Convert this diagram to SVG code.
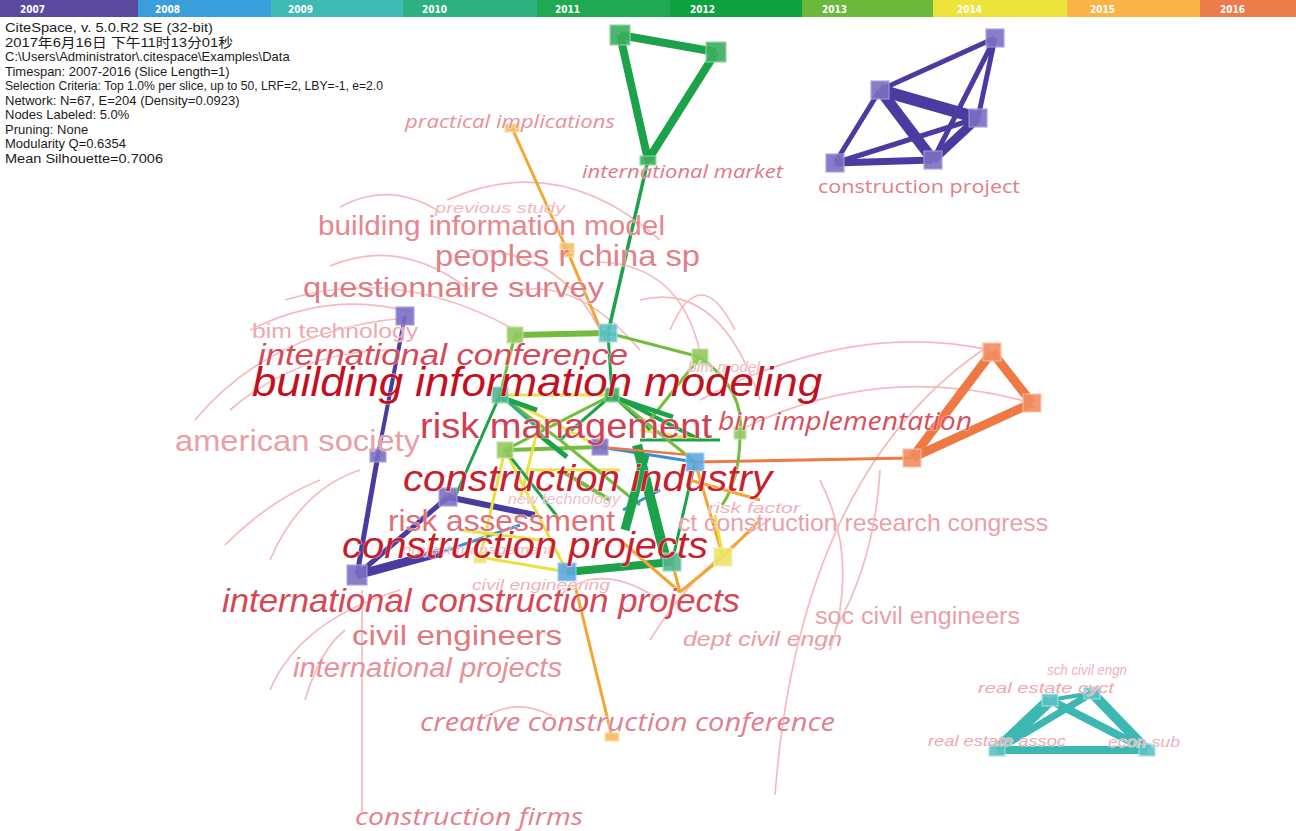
<svg xmlns="http://www.w3.org/2000/svg" width="1296" height="831" viewBox="0 0 1296 831">
<defs>
<style>
text{font-family:"Liberation Sans",Arial,sans-serif}
.info{font-size:13px;fill:#1c1c1c}
.yr{font-family:"Liberation Sans Narrow","DejaVu Sans Condensed",sans-serif;font-size:10px;font-weight:bold;fill:#fff}
.arc{fill:none;stroke:#f6b9bd;stroke-width:1.7}
.e{fill:none;stroke-linecap:butt}
.c07{stroke:#4a3ba0}.c08{stroke:#3b8fd8}.c09{stroke:#3cb7b2}.c10{stroke:#2fae86}
.c12{stroke:#1ba24a}.c13{stroke:#74bc3e}.c14{stroke:#e9e23c}.c15{stroke:#f2a532}.c16{stroke:#f07843}
.n07{fill:#7b70c4;stroke:#a59dde}.n08{fill:#5fa8e2;stroke:#9ccbf0}.n09{fill:#5cc2c4;stroke:#a6e0e0}
.n10{fill:#4fb88e;stroke:#9ad8bd}.n12{fill:#3bb05e;stroke:#8fd4a2}.n13{fill:#93c95f;stroke:#c2e2a4}
.n14{fill:#eee46a;stroke:#f6f0b0}.n15{fill:#f6bd62;stroke:#fadca8}.n16{fill:#f28e62;stroke:#f8c0a6}
.nd rect{stroke-width:1.2;opacity:.9}
.lbl{paint-order:stroke;stroke:#fff;stroke-width:1.3;stroke-opacity:.55}
.hum{font-family:"Open Sans","Noto Sans",sans-serif}
.it{font-style:italic}
</style>
</defs>
<rect width="1296" height="831" fill="#fff"/>

<!-- year colour bar -->
<g id="timebar">
<rect x="0" y="0" width="138" height="17" fill="#5a4a9d"/>
<rect x="138" y="0" width="133" height="17" fill="#3a9edb"/>
<rect x="271" y="0" width="132" height="17" fill="#3fbab4"/>
<rect x="403" y="0" width="134" height="17" fill="#2fb083"/>
<rect x="537" y="0" width="133" height="17" fill="#20a852"/>
<rect x="670" y="0" width="132" height="17" fill="#0fa042"/>
<rect x="802" y="0" width="131" height="17" fill="#6cb83c"/>
<rect x="933" y="0" width="134" height="17" fill="#ece43a"/>
<rect x="1067" y="0" width="133" height="17" fill="#f8b446"/>
<rect x="1200" y="0" width="96" height="17" fill="#ec7c4c"/>
<text class="yr" x="20" y="13">2007</text>
<text class="yr" x="155" y="13">2008</text>
<text class="yr" x="288" y="13">2009</text>
<text class="yr" x="422" y="13">2010</text>
<text class="yr" x="555" y="13">2011</text>
<text class="yr" x="690" y="13">2012</text>
<text class="yr" x="822" y="13">2013</text>
<text class="yr" x="957" y="13">2014</text>
<text class="yr" x="1090" y="13">2015</text>
<text class="yr" x="1220" y="13">2016</text>
</g>

<!-- run summary -->
<g id="summary" class="info">
<text x="5" y="32" textLength="208" lengthAdjust="spacingAndGlyphs">CiteSpace, v. 5.0.R2 SE (32-bit)</text>
<text x="5" y="46.5" textLength="228" lengthAdjust="spacingAndGlyphs" style="font-family:'Liberation Sans','Noto Sans CJK SC',sans-serif">2017年6月16日 下午11时13分01秒</text>
<text x="5" y="61">C:\Users\Administrator\.citespace\Examples\Data</text>
<text x="5" y="75.5">Timespan: 2007-2016 (Slice Length=1)</text>
<text x="5" y="90" textLength="378" lengthAdjust="spacingAndGlyphs">Selection Criteria: Top 1.0% per slice, up to 50, LRF=2, LBY=-1, e=2.0</text>
<text x="5" y="104.5">Network: N=67, E=204 (Density=0.0923)</text>
<text x="5" y="119">Nodes Labeled: 5.0%</text>
<text x="5" y="133.5">Pruning: None</text>
<text x="5" y="148">Modularity Q=0.6354</text>
<text x="5" y="162.5" textLength="158" lengthAdjust="spacingAndGlyphs">Mean Silhouette=0.7006</text>
</g>

<!-- citation burst arcs -->
<g id="arcs" class="arc">
<path d="M340 207 Q390 180 440 212"/>
<path d="M447 200 Q560 150 660 240"/>
<path d="M330 266 Q400 236 470 290"/>
<path d="M250 330 Q330 290 410 312"/>
<path d="M285 300 Q400 265 515 330"/>
<path d="M195 420 Q270 330 405 318"/>
<path d="M230 410 Q300 350 395 350"/>
<path d="M470 250 Q560 250 600 330"/>
<path d="M520 290 Q580 280 640 350"/>
<path d="M600 262 Q680 265 700 352"/>
<path d="M640 300 Q720 280 760 400"/>
<path d="M670 330 Q700 260 735 330"/>
<path d="M700 400 Q850 320 990 350"/>
<path d="M740 430 Q880 360 1032 403"/>
<path d="M775 795 Q800 470 990 345"/>
<path d="M820 480 Q860 560 830 650"/>
<path d="M880 470 Q875 560 835 630"/>
<path d="M650 640 Q700 560 770 520"/>
<path d="M270 560 Q300 490 360 470"/>
<path d="M225 545 Q270 500 320 480"/>
<path d="M305 700 Q320 650 345 630"/>
<path d="M270 690 Q300 620 400 590"/>
<path d="M362 590 L362 812"/>
<path d="M480 720 Q515 696 552 716"/>
<path d="M560 595 Q600 560 660 600"/>
</g>

<!-- connectors -->
<g id="edges" class="e">
<!-- top green cluster -->
<path class="c12" stroke-width="8" d="M620 35 L716 52"/>
<path class="c12" stroke-width="8" d="M620 35 L648 160"/>
<path class="c12" stroke-width="8" d="M716 52 L648 160"/>
<path class="c12" stroke-width="3.5" d="M648 160 L608 333"/>
<!-- top right purple cluster -->
<path class="c07" stroke-width="5" d="M995 38 L880 90"/>
<path class="c07" stroke-width="5" d="M995 38 L978 118"/>
<path class="c07" stroke-width="5" d="M995 38 L933 160"/>
<path class="c07" stroke-width="12" d="M880 90 L978 118"/>
<path class="c07" stroke-width="11" d="M880 90 L933 160"/>
<path class="c07" stroke-width="5" d="M880 90 L835 163"/>
<path class="c07" stroke-width="7" d="M835 163 L933 160"/>
<path class="c07" stroke-width="5" d="M835 163 L978 118"/>
<path class="c07" stroke-width="9" d="M933 160 L978 118"/>
<!-- orange cluster -->
<path class="c16" stroke-width="9" d="M992 352 L1032 403"/>
<path class="c16" stroke-width="9" d="M992 352 L912 458"/>
<path class="c16" stroke-width="9" d="M1032 403 L912 458"/>
<path class="c16" stroke-width="3" d="M912 458 L695 462"/>
<!-- teal cluster -->
<path class="c09" stroke-width="12" d="M1050 700 L997 750"/>
<path class="c09" stroke-width="10" d="M1092 693 L1147 750"/>
<path class="c09" stroke-width="8" d="M997 750 L1147 750"/>
<path class="c09" stroke-width="8" d="M1050 700 L1147 750"/>
<path class="c09" stroke-width="7" d="M1092 693 L997 750"/>
<path class="c09" stroke-width="4" d="M1050 700 L1092 693"/>
<!-- left purple chain -->
<path class="c07" stroke-width="4" d="M405 316 L378 455"/>
<path class="c07" stroke-width="5" d="M378 455 L357 575"/>
<path class="c07" stroke-width="5" d="M357 575 L448 497"/>
<path class="c07" stroke-width="9" d="M357 575 L442 552"/>
<path class="c07" stroke-width="6" d="M448 497 L535 515"/>
<path class="c08" stroke-width="3" d="M442 552 L520 525"/>
<!-- orange spine -->
<path class="c15" stroke-width="3" d="M512 128 L567 250"/>
<path class="c15" stroke-width="3" d="M567 250 L605 340"/>
<path class="c15" stroke-width="3" d="M575 585 L612 737"/>
<!-- central mesh -->
<path class="c13" stroke-width="6" d="M515 335 L608 333"/>
<path class="c13" stroke-width="3" d="M608 333 L700 357"/>
<path class="c13" stroke-width="3" d="M515 335 L500 395"/>
<path class="c12" stroke-width="3" d="M608 333 L612 395"/>
<path class="c13" stroke-width="3" d="M700 357 Q745 390 740 433"/>
<path class="c13" stroke-width="3" d="M740 433 Q740 480 722 505"/>
<path class="c14" stroke-width="3" d="M500 395 L612 395"/>
<path class="c12" stroke-width="3" d="M500 395 L455 497"/>
<path class="c13" stroke-width="3" d="M500 395 L560 440"/>
<path class="c12" stroke-width="3" d="M612 395 L560 440"/>
<path class="c12" stroke-width="4" d="M612 395 L700 440"/>
<path class="c14" stroke-width="3" d="M500 395 L600 447"/>
<path class="c13" stroke-width="4" d="M505 450 L600 447"/>
<path class="c13" stroke-width="3" d="M505 450 L612 395"/>
<path class="c14" stroke-width="3" d="M505 450 L567 572"/>
<path class="c14" stroke-width="3" d="M505 450 L480 557"/>
<path class="c14" stroke-width="3" d="M540 420 L520 500"/>
<path class="c14" stroke-width="3" d="M530 470 L620 470"/>
<path class="c14" stroke-width="3" d="M640 430 L700 440"/>
<path class="c13" stroke-width="3" d="M560 440 L640 505"/>
<path class="c12" stroke-width="3" d="M640 440 L720 440"/>
<path class="c12" stroke-width="3" d="M612 395 L650 430"/>
<path class="c13" stroke-width="3" d="M612 395 L695 462"/>
<path class="c13" stroke-width="3" d="M700 357 L650 420"/>
<path class="c12" stroke-width="5" d="M500 397 L537 410"/>
<path class="c12" stroke-width="5" d="M613 397 L673 417"/>
<path class="c12" stroke-width="5" d="M537 433 L567 457"/>
<path class="c13" stroke-width="4" d="M560 470 L610 500"/>
<path class="c08" stroke-width="3" d="M600 447 L695 462"/>
<path class="c08" stroke-width="3" d="M623 510 L660 490"/>
<path class="c12" stroke-width="10" d="M637 445 L666 560"/>
<path class="c12" stroke-width="9" d="M645 455 L625 530"/>
<path class="c12" stroke-width="8" d="M567 572 L672 562"/>
<path class="c12" stroke-width="3" d="M695 462 L672 562"/>
<path class="c12" stroke-width="3" d="M505 450 L560 520"/>
<path class="c10" stroke-width="3" d="M500 395 L540 430"/>
<path class="c15" stroke-width="3" d="M695 462 L723 557"/>
<path class="c15" stroke-width="3" d="M620 540 L680 592"/>
<path class="c15" stroke-width="3" d="M672 562 L680 592"/>
<path class="c15" stroke-width="3" d="M723 557 L680 592"/>
<path class="c15" stroke-width="3" d="M760 520 L723 557"/>
<path class="c15" stroke-width="3" d="M690 480 L760 500"/>
<path class="c14" stroke-width="3" d="M715 515 L723 557"/>
<path class="c14" stroke-width="3" d="M480 557 L567 572"/>
<path class="c14" stroke-width="3" d="M460 530 L540 540"/>
<path class="c16" stroke-width="2.5" d="M600 447 L690 455"/>
</g>

<!-- nodes -->
<g id="nodes" class="nd">
<g id="n-top-a"><rect class="n12" x="610" y="25" width="20" height="20"/></g>
<g id="n-top-b"><rect class="n12" x="706" y="42" width="20" height="20"/></g>
<g id="n-intl-market"><rect class="n12" x="640" y="156" width="16" height="9"/></g>
<g id="n-cp-a"><rect class="n07" x="986" y="29" width="18" height="18"/></g>
<g id="n-cp-b"><rect class="n07" x="871" y="81" width="18" height="18"/></g>
<g id="n-cp-c"><rect class="n07" x="969" y="109" width="18" height="18"/></g>
<g id="n-cp-d"><rect class="n07" x="826" y="154" width="18" height="18"/></g>
<g id="n-cp-e"><rect class="n07" x="924" y="151" width="18" height="18"/></g>
<g id="n-or-a"><rect class="n16" x="983" y="343" width="18" height="18"/></g>
<g id="n-or-b"><rect class="n16" x="1023" y="394" width="18" height="18"/></g>
<g id="n-or-c"><rect class="n16" x="903" y="449" width="18" height="18"/></g>
<g id="n-re-a"><rect class="n09" x="1042" y="694" width="16" height="12"/></g>
<g id="n-re-b"><rect class="n09" x="1084" y="687" width="16" height="12"/></g>
<g id="n-re-c"><rect class="n09" x="989" y="744" width="16" height="12"/></g>
<g id="n-re-d"><rect class="n09" x="1139" y="744" width="16" height="12"/></g>
<g id="n-practical"><rect class="n15" x="505" y="124" width="14" height="8"/></g>
<g id="n-china"><rect class="n15" x="560" y="243" width="14" height="14"/></g>
<g id="n-creative"><rect class="n15" x="605" y="733" width="14" height="8"/></g>
<g id="n-bimtech"><rect class="n07" x="396" y="307" width="18" height="18"/></g>
<g id="n-amsoc"><rect class="n07" x="370" y="449" width="16" height="13"/></g>
<g id="n-riskassess"><rect class="n07" x="439" y="488" width="18" height="18"/></g>
<g id="n-intlcp"><rect class="n07" x="347" y="565" width="20" height="20"/></g>
<g id="n-c1"><rect class="n13" x="507" y="327" width="16" height="16"/></g>
<g id="n-c2"><rect class="n09" x="599" y="324" width="18" height="18"/></g>
<g id="n-bimmodel"><rect class="n13" x="692" y="349" width="16" height="16"/></g>
<g id="n-c4"><rect class="n10" x="492" y="387" width="16" height="16"/></g>
<g id="n-c5"><rect class="n12" x="605" y="388" width="14" height="14"/></g>
<g id="n-bimimpl"><rect class="n13" x="734" y="427" width="12" height="12"/></g>
<g id="n-c7"><rect class="n13" x="497" y="442" width="16" height="16"/></g>
<g id="n-c8"><rect class="n07" x="592" y="439" width="16" height="16"/></g>
<g id="n-c9"><rect class="n08" x="686" y="453" width="18" height="18"/></g>
<g id="n-c10"><rect class="n08" x="558" y="563" width="18" height="18"/></g>
<g id="n-c11"><rect class="n10" x="663" y="553" width="18" height="18"/></g>
<g id="n-c12"><rect class="n14" x="714" y="548" width="18" height="18"/></g>
<g id="n-c13"><rect class="n14" x="474" y="551" width="12" height="12"/></g>
</g>

<!-- keyword labels -->
<g id="labels" class="lbl">
<text class="hum it" x="405" y="128" font-size="19" fill="#e8909a" textLength="210" lengthAdjust="spacingAndGlyphs">practical implications</text>
<text class="hum it" x="582" y="178" font-size="19" fill="#e07a88" textLength="201" lengthAdjust="spacingAndGlyphs">international market</text>
<text class="hum" x="818" y="193" font-size="19" fill="#e0808a" textLength="202" lengthAdjust="spacingAndGlyphs">construction project</text>
<text class="it" x="435" y="213" font-size="15" fill="#f2b8bd" textLength="130" lengthAdjust="spacingAndGlyphs">previous study</text>
<text x="318" y="235" font-size="27" fill="#e8868e" textLength="347" lengthAdjust="spacingAndGlyphs">building information model</text>
<text x="435" y="266" font-size="30" fill="#e08088" textLength="265" lengthAdjust="spacingAndGlyphs">peoples r china sp</text>
<text x="303" y="297" font-size="28" fill="#e07a82" textLength="301" lengthAdjust="spacingAndGlyphs">questionnaire survey</text>
<text x="252" y="338" font-size="20" fill="#eda8b0" textLength="166" lengthAdjust="spacingAndGlyphs">bim technology</text>
<text class="it" x="258" y="365" font-size="30" fill="#d54a58" textLength="370" lengthAdjust="spacingAndGlyphs">international conference</text>
<text class="it" x="688" y="372" font-size="14" fill="#f0b8c0" textLength="72" lengthAdjust="spacingAndGlyphs">bim model</text>
<text class="it" x="252" y="396" font-size="40" fill="#c4101e" textLength="570" lengthAdjust="spacingAndGlyphs">building information modeling</text>
<text class="hum it" x="718" y="430" font-size="25" fill="#d85060" textLength="254" lengthAdjust="spacingAndGlyphs">bim implementation</text>
<text x="420" y="438" font-size="35" fill="#d04050" textLength="292" lengthAdjust="spacingAndGlyphs">risk management</text>
<text x="175" y="451" font-size="30" fill="#e8a0a6" textLength="245" lengthAdjust="spacingAndGlyphs">american society</text>
<text class="it" x="403" y="491" font-size="37" fill="#c8202e" textLength="369" lengthAdjust="spacingAndGlyphs">construction industry</text>
<text class="it" x="508" y="504" font-size="15" fill="#f0c0c8" textLength="112" lengthAdjust="spacingAndGlyphs">new technology</text>
<text class="it" x="708" y="513" font-size="15" fill="#f0b0b8" textLength="92" lengthAdjust="spacingAndGlyphs">risk factor</text>
<text x="388" y="531" font-size="30" fill="#e07078" textLength="227" lengthAdjust="spacingAndGlyphs">risk assessment</text>
<text x="678" y="531" font-size="24" fill="#eaa0a8" textLength="370" lengthAdjust="spacingAndGlyphs">ct construction research congress</text>
<text class="it" x="402" y="554" font-size="13" fill="#f0b8c0" textLength="150" lengthAdjust="spacingAndGlyphs">project management</text>
<text class="it" x="342" y="558" font-size="37" fill="#c81e2c" textLength="366" lengthAdjust="spacingAndGlyphs">construction projects</text>
<text class="it" x="472" y="590" font-size="15" fill="#f0b0b8" textLength="138" lengthAdjust="spacingAndGlyphs">civil engineering</text>
<text class="it" x="222" y="612" font-size="33" fill="#d84654" textLength="518" lengthAdjust="spacingAndGlyphs">international construction projects</text>
<text x="815" y="624" font-size="23" fill="#eaa0a8" textLength="205" lengthAdjust="spacingAndGlyphs">soc civil engineers</text>
<text x="352" y="645" font-size="28" fill="#e07880" textLength="210" lengthAdjust="spacingAndGlyphs">civil engineers</text>
<text class="it" x="683" y="646" font-size="21" fill="#e89ca4" textLength="159" lengthAdjust="spacingAndGlyphs">dept civil engn</text>
<text class="it" x="293" y="677" font-size="27" fill="#e8909a" textLength="269" lengthAdjust="spacingAndGlyphs">international projects</text>
<text class="hum it" x="420" y="731" font-size="25" fill="#e08090" textLength="415" lengthAdjust="spacingAndGlyphs">creative construction conference</text>
<text class="hum it" x="355" y="825" font-size="24" fill="#e58090" textLength="228" lengthAdjust="spacingAndGlyphs">construction firms</text>
<text class="it" x="1047" y="675" font-size="14" fill="#f0b0b8" textLength="80" lengthAdjust="spacingAndGlyphs">sch civil engn</text>
<text class="it" x="978" y="693" font-size="14" fill="#f0a8b0" textLength="136" lengthAdjust="spacingAndGlyphs">real estate cyct</text>
<text class="it" x="928" y="746" font-size="14" fill="#f0a8b0" textLength="138" lengthAdjust="spacingAndGlyphs">real estate assoc</text>
<text class="it" x="1108" y="747" font-size="14" fill="#f0b0b8" textLength="72" lengthAdjust="spacingAndGlyphs">econ sub</text>
</g>
</svg>
